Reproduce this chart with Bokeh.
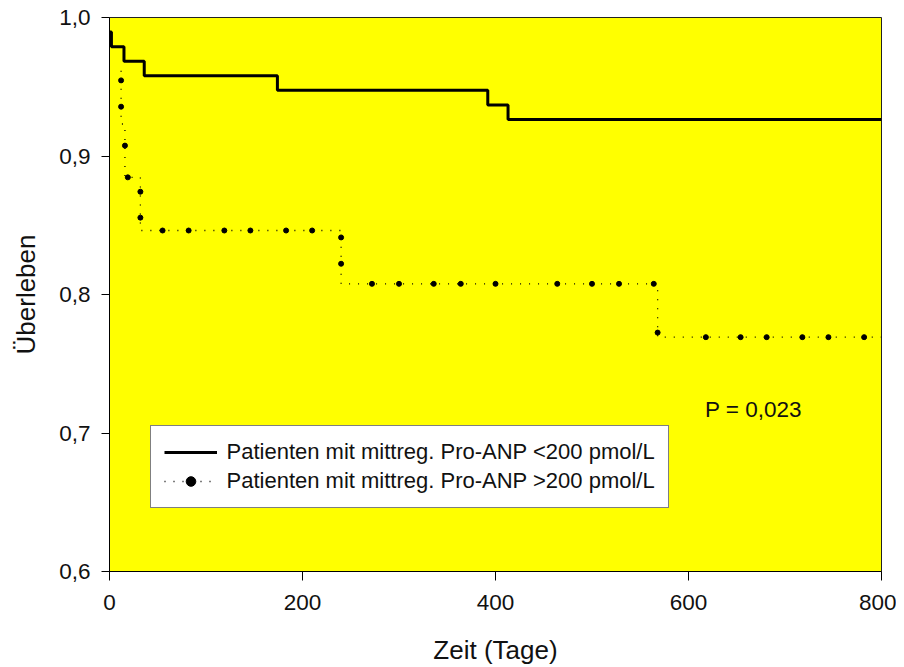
from bokeh.plotting import figure
from bokeh.models import FixedTicker, Legend, LegendItem, Label, Range1d
from bokeh.embed import file_html
from bokeh.resources import INLINE

# ---- data ----
x_ticks = [0, 200, 400, 600, 800]
y_ticks = [0.6, 0.7, 0.8, 0.9, 1.0]
y_tick_labels = ["0,6", "0,7", "0,8", "0,9", "1,0"]

# group 1: mid-regional Pro-ANP < 200 pmol/L (step curve, "after" mode)
low_times = [0, 2, 15, 36, 174, 392, 413, 800]
low_surv = [0.9895, 0.9789, 0.9684, 0.9579, 0.9474, 0.9368, 0.9263, 0.9263]

# group 2: mid-regional Pro-ANP > 200 pmol/L
high_times = [12, 12, 16, 32, 240, 568, 800]
high_surv = [0.9615, 0.9231, 0.8846, 0.8462, 0.8077, 0.7692, 0.7692]

# censor marks of group 2
cens_times = [12, 12, 16, 19, 32, 32, 55, 82, 119, 146, 183, 210,
              240, 240, 272, 300, 336, 364, 400, 464, 500, 528, 564,
              568, 618, 654, 681, 718, 745, 782]
cens_surv = [0.9546, 0.9356, 0.9075, 0.8846, 0.8742, 0.8555,
             0.8462, 0.8462, 0.8462, 0.8462, 0.8462, 0.8462,
             0.8412, 0.8222,
             0.8077, 0.8077, 0.8077, 0.8077, 0.8077, 0.8077, 0.8077, 0.8077, 0.8077,
             0.7725,
             0.7692, 0.7692, 0.7692, 0.7692, 0.7692, 0.7692]

label_low = "Patienten mit mittreg. Pro-ANP <200 pmol/L"
label_high = "Patienten mit mittreg. Pro-ANP >200 pmol/L"
p_text = "P = 0,023"

FONT = "Liberation Sans"

p = figure(width=896, height=667, output_backend="svg", toolbar_location=None,
           x_range=Range1d(0, 800), y_range=Range1d(0.6, 1.0),
           min_border_left=109, min_border_right=15, min_border_top=17,
           min_border_bottom=95)
p.background_fill_color = "#FFFF00"
p.border_fill_color = "white"
p.outline_line_color = "#222222"
p.outline_line_width = 1
p.grid.visible = False

r_low = p.step(low_times, low_surv, mode="after", line_width=3, line_color="black")
r_high = p.step(high_times, high_surv, mode="after", line_width=1.3,
                line_color="black", line_dash="1 8")
r_cens = p.scatter(cens_times, cens_surv, size=5, color="black")

for ax in (p.xaxis[0], p.yaxis[0]):
    ax.axis_line_color = "black"
    ax.major_tick_line_color = "black"
    ax.major_tick_in = 0
    ax.minor_tick_line_color = None
    ax.major_label_text_font = FONT
    ax.major_label_text_font_size = "22.5px"
    ax.major_label_text_color = "#111111"
    ax.axis_label_text_font = FONT
    ax.axis_label_text_font_size = "26px"
    ax.axis_label_text_font_style = "normal"
    ax.axis_label_text_color = "#111111"

p.xaxis.ticker = FixedTicker(ticks=x_ticks)
p.yaxis.ticker = FixedTicker(ticks=y_ticks)
p.yaxis.major_label_overrides = {t: s for t, s in zip(y_ticks, y_tick_labels)}
p.xaxis.major_tick_out = 9
p.yaxis.major_tick_out = 8
p.xaxis.major_label_standoff = 14
p.yaxis.major_label_standoff = 11
p.xaxis.axis_label = "Zeit (Tage)"
p.yaxis.axis_label = "Überleben"
p.xaxis.axis_label_standoff = 22
p.yaxis.axis_label_standoff = 15

legend = Legend(items=[LegendItem(label=label_low, renderers=[r_low]),
                       LegendItem(label=label_high, renderers=[r_high, r_cens])],
                location=(40.5, 63), orientation="vertical",
                border_line_color="black", border_line_width=1,
                background_fill_color="white", background_fill_alpha=1.0,
                padding=13, spacing=3, margin=0,
                glyph_width=53, glyph_height=24, label_height=24,
                label_standoff=10, label_text_font=FONT,
                label_text_font_size="22px", label_text_color="#111111")
p.add_layout(legend)

p.add_layout(Label(x=617, y=0.7168, text=p_text, text_font=FONT,
                   text_font_size="22.5px", text_baseline="middle",
                   text_color="#111111"))

open("out.html", "w").write(file_html(p, INLINE))
